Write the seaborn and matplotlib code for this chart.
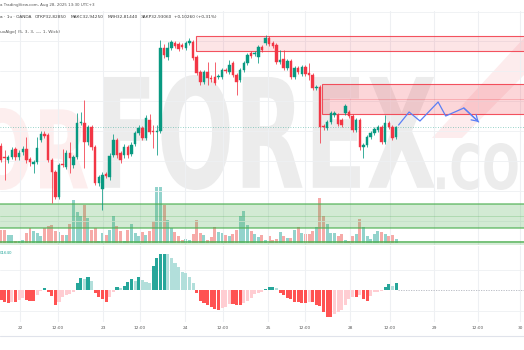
import numpy as np
import pandas as pd
import matplotlib
matplotlib.use("Agg")
import matplotlib.pyplot as plt
import seaborn as sns
from matplotlib.textpath import TextPath
from matplotlib.font_manager import FontProperties
from matplotlib.patches import PathPatch, Rectangle, Polygon
from matplotlib.transforms import Affine2D
from matplotlib.lines import Line2D

# ---------------- data (1h candles) ----------------
opens = [32.74, 32.63, 32.60, 32.63, 32.71, 32.63, 32.68, 32.71, 32.61, 32.56,
         32.58, 32.80, 32.86, 32.85, 32.60, 32.48, 32.23, 32.56, 32.53, 32.67,
         32.55, 32.63, 32.97, 32.97, 32.78, 32.93, 32.73, 32.37, 32.31, 32.46,
         32.43, 32.65, 32.80, 32.67, 32.65, 32.73, 32.66, 32.76, 32.87, 32.92,
         32.82, 33.00, 32.89, 32.88, 32.89, 33.72, 33.63, 33.72, 33.77, 33.76,
         33.75, 33.72, 33.77, 33.78, 33.63, 33.48, 33.38, 33.48, 33.42, 33.43,
         33.43, 33.43, 33.50, 33.48, 33.57, 33.45, 33.40, 33.50, 33.57, 33.67,
         33.66, 33.63, 33.73, 33.77, 33.82, 33.77, 33.75, 33.58, 33.61, 33.52,
         33.59, 33.43, 33.52, 33.46, 33.53, 33.47, 33.45, 33.32, 33.33, 32.94,
         32.92, 32.98, 33.05, 33.05, 33.00, 33.07, 33.08, 33.04, 32.90, 33.00,
         32.73, 32.75, 32.83, 32.87, 32.90, 32.93, 32.78, 32.97, 32.93, 32.8285]
closes = [32.60, 32.62, 32.63, 32.70, 32.63, 32.67, 32.71, 32.60, 32.58, 32.58,
          32.72, 32.86, 32.84, 32.60, 32.48, 32.23, 32.55, 32.55, 32.67, 32.62,
          32.63, 32.97, 32.98, 32.78, 32.93, 32.73, 32.37, 32.43, 32.45, 32.44,
          32.64, 32.80, 32.65, 32.60, 32.73, 32.65, 32.75, 32.87, 32.92, 32.82,
          33.02, 32.88, 32.88, 32.89, 33.72, 33.65, 33.72, 33.78, 33.74, 33.71,
          33.73, 33.77, 33.79, 33.62, 33.47, 33.38, 33.48, 33.42, 33.41, 33.37,
          33.44, 33.50, 33.49, 33.55, 33.45, 33.38, 33.50, 33.57, 33.65, 33.64,
          33.67, 33.73, 33.70, 33.82, 33.76, 33.74, 33.58, 33.60, 33.52, 33.59,
          33.43, 33.52, 33.48, 33.53, 33.46, 33.45, 33.32, 33.33, 32.93, 32.93,
          32.98, 33.07, 33.07, 32.96, 32.95, 33.14, 33.04, 32.90, 33.00, 32.73,
          32.75, 32.83, 32.87, 32.91, 32.93, 32.78, 32.97, 32.93, 32.82, 32.9306]
highs = [32.77, 32.70, 32.65, 32.73, 32.73, 32.70, 32.74, 32.83, 32.63, 32.60,
         32.83, 32.89, 32.89, 32.87, 32.62, 32.50, 32.57, 32.71, 32.70, 32.78,
         32.65, 33.07, 33.08, 33.20, 32.95, 32.95, 32.75, 32.45, 32.48, 32.48,
         32.67, 32.86, 32.82, 32.69, 32.76, 32.75, 32.78, 32.89, 32.95, 32.94,
         33.05, 33.06, 32.95, 32.95, 33.80, 33.76, 33.78, 33.80, 33.79, 33.78,
         33.77, 33.79, 33.82, 33.80, 33.65, 33.50, 33.50, 33.58, 33.45, 33.58,
         33.46, 33.52, 33.52, 33.60, 33.59, 33.47, 33.52, 33.59, 33.67, 33.69,
         33.69, 33.75, 33.75, 33.85, 33.84, 33.79, 33.77, 33.70, 33.70, 33.61,
         33.61, 33.54, 33.54, 33.55, 33.55, 33.57, 33.47, 33.35, 33.35, 32.96,
         33.00, 33.09, 33.09, 33.07, 33.02, 33.16, 33.10, 33.06, 33.02, 33.02,
         32.77, 32.85, 32.89, 32.93, 32.95, 32.95, 33.05, 32.99, 32.95, 32.9425]
lows = [32.58, 32.40, 32.57, 32.61, 32.60, 32.60, 32.65, 32.57, 32.54, 32.47,
        32.56, 32.78, 32.82, 32.58, 32.17, 32.21, 32.21, 32.53, 32.51, 32.47,
        32.52, 32.61, 32.95, 32.52, 32.75, 32.70, 32.35, 32.34, 32.10, 32.42,
        32.40, 32.63, 32.62, 32.57, 32.62, 32.62, 32.64, 32.74, 32.85, 32.80,
        32.80, 32.86, 32.72, 32.65, 32.87, 33.62, 33.60, 33.70, 33.72, 33.69,
        33.71, 33.70, 33.75, 33.60, 33.45, 33.35, 33.36, 33.35, 33.38, 33.35,
        33.41, 33.41, 33.47, 33.46, 33.43, 33.25, 33.38, 33.48, 33.55, 33.62,
        33.64, 33.57, 33.68, 33.75, 33.74, 33.72, 33.56, 33.56, 33.50, 33.50,
        33.41, 33.41, 33.46, 33.44, 33.44, 33.40, 33.30, 33.30, 32.77, 32.90,
        32.90, 32.96, 33.03, 32.94, 32.93, 33.05, 33.02, 32.88, 32.88, 32.70,
        32.62, 32.73, 32.81, 32.85, 32.88, 32.76, 32.76, 32.91, 32.80, 32.8144]
volumes = [38, 38, 25, 25, 5, 5, 8, 30, 45, 35,
           30, 20, 45, 52, 53, 35, 32, 25, 25, 58,
           130, 93, 80, 115, 75, 40, 45, 7, 30, 25,
           38, 80, 52, 35, 7, 40, 57, 30, 20, 32,
           23, 35, 67, 168, 168, 113, 68, 45, 32, 20,
           10, 12, 10, 27, 70, 30, 23, 10, 17, 47,
           32, 30, 25, 20, 28, 40, 82, 95, 55, 35,
           28, 18, 25, 10, 20, 8, 12, 32, 22, 15,
           15, 40, 47, 30, 28, 27, 37, 48, 135, 82,
           58, 30, 30, 20, 28, 8, 7, 20, 28, 73,
           48, 20, 12, 28, 37, 32, 28, 20, 25, 12]
hist = [-30, -35, -40, -35, -35, -30, -25, -30, -32, -32,
        -15, -2, 7, -5, -18, -45, -35, -20, -15, -13,
        -5, 20, 37, 32, 40, 27, -8, -22, -28, -35,
        -20, -5, 10, 7, 13, 23, 32, 28, 40, 30,
        25, 22, 72, 95, 107, 108, 107, 95, 82, 68,
        53, 52, 40, 20, -8, -33, -40, -45, -50, -57,
        -60, -55, -50, -43, -43, -45, -45, -40, -33, -23,
        -13, -10, -5, 3, 10, 10, 5, -8, -15, -25,
        -28, -37, -37, -38, -38, -35, -35, -45, -47, -65,
        -80, -80, -72, -65, -60, -45, -28, -20, -22, -15,
        -27, -32, -18, -7, -5, -3, 10, 18, 13, 22]

tick_pos = [5.24, 15.73, 28.15, 38.36, 50.77, 61.26, 73.68, 83.89, 96.30,
            107.34, 119.48, 131.62, 143.21]
tick_labels = ["22", "12:00", "23", "12:00", "24", "12:00", "25", "12:00",
               "28", "12:00", "29", "12:00", "30"]

# zones (price bounds) and their start bar
supply_a = (53.8, 33.695, 33.845)
supply_b = (88.6, 33.06, 33.365, 33.21)
demand_a = (31.923, 32.16, 32.04)
demand_b = (31.745, 31.79, 31.78)

proj_x = [109.7, 112.6, 115.6, 120.6, 122.7, 127.7, 131.8]
proj_y = [32.95, 33.08, 32.99, 33.18, 33.04, 33.12, 32.98]

# ---------------- figure ----------------
W, H = 524, 350
sns.set_theme(style="white")
plt.rcParams["font.family"] = ["DejaVu Sans"]
fig = plt.figure(figsize=(W / 100, H / 100), dpi=100)
fig.patch.set_facecolor("white")
XL = (-0.276, 144.3)


def rect(x0, y0, x1, y1):
    return [x0 / W, 1 - y1 / H, (x1 - x0) / W, (y1 - y0) / H]


def stamp(text, x0, y0, x1, y1, color):
    tp = TextPath((0, 0), text, size=100,
                  prop=FontProperties(family="DejaVu Sans", weight="bold"))
    bb = tp.get_extents()
    tr = (Affine2D().translate(-bb.x0, -bb.y0)
          .scale((x1 - x0) / bb.width / W, (y1 - y0) / bb.height / H)
          .translate(x0 / W, 1 - y1 / H) + fig.transFigure)
    fig.add_artist(PathPatch(tp, facecolor=color, edgecolor="none",
                             transform=tr, zorder=-5))


# watermark
stamp("FOREX", 103, 75, 435, 190, "#ececec")
stamp(".COM", 437, 143, 560, 190, "#ececec")
stamp("OR", -25, 108, 88, 190, "#fdeeee")
fig.add_artist(Polygon([(432 / W, 1 - 138 / H), (462 / W, 1 - 138 / H),
                        (524 / W, 1 - 75 / H), (524 / W, 1 - 38 / H)],
                       closed=True, transform=fig.transFigure,
                       facecolor="#fdeced", edgecolor="none", zorder=-5))

n = len(opens)
df = pd.DataFrame({"idx": np.arange(n), "o": opens, "c": closes,
                   "h": highs, "l": lows, "vol": volumes, "hist": hist})
df["dir"] = np.where(df["c"] >= df["o"], "up", "down")
prev = df["hist"].shift(1).fillna(0)
df["hcat"] = np.where(df["hist"] >= 0,
                      np.where(df["hist"] >= prev, "pu", "pd"),
                      np.where(df["hist"] <= prev, "nd", "nu"))

GRID = "#eef0f3"

# ---- volume axes ----
vax = fig.add_axes(rect(0, 183, 524, 243), zorder=1)
vax.set_facecolor("none")
sns.barplot(data=df, x="idx", y="vol", hue="dir", order=list(range(n)),
            dodge=False, width=0.82, legend=False, errorbar=None, saturation=1,
            palette={"up": "#93d3cc", "down": "#f6aaa8"}, linewidth=0, ax=vax)
vax.set_xlim(*XL)
vax.set_ylim(0, 180)
vax.set_axis_off()

# ---- main price axes ----
ax = fig.add_axes(rect(0, 11, 524, 245), zorder=2)
ax.set_facecolor("none")
ax.set_xlim(*XL)
ax.set_ylim(31.75, 34.09)
ax.set_axis_off()
for t in tick_pos:
    ax.axvline(t, color=GRID, lw=0.8, zorder=0)
for gp in [34.085, 33.79, 33.49, 33.19, 32.89, 32.59, 32.29, 31.99]:
    ax.axhline(gp, color=GRID, lw=0.6, zorder=0)

red = (242 / 255, 54 / 255, 69 / 255)
green = (76 / 255, 175 / 255, 80 / 255)
s0, lo, hi = supply_a
ax.add_patch(Rectangle((s0, lo), 200, hi - lo, facecolor=red + (0.13,),
                       edgecolor=red + (0.85,), lw=0.8, zorder=1))
s0, lo, hi, mid = supply_b
ax.add_patch(Rectangle((s0, lo), 200, hi - lo, facecolor=red + (0.2,),
                       edgecolor=red + (0.85,), lw=0.8, zorder=1))
ax.hlines(mid, s0, 200, color=red + (0.3,), lw=0.6, zorder=1)
lo, hi, mid = demand_a
ax.add_patch(Rectangle((-5, lo), 300, hi - lo, facecolor=green + (0.25,),
                       edgecolor=green + (0.75,), lw=1.1, zorder=1))
ax.axhline(mid, color=green + (0.3,), lw=0.6, zorder=1)
lo, hi, mid = demand_b
ax.add_patch(Rectangle((-5, lo), 300, hi - lo, facecolor=green + (0.22,),
                       edgecolor="none", zorder=1))
ax.axhline(mid, color=green + (0.8,), lw=1.2, zorder=1)

ax.axhline(closes[-1], color="#089981", lw=0.6, ls=(0, (1, 2)), alpha=0.55, zorder=2)

cols = np.where(df["dir"] == "up", "#089981", "#f23645")
ax.vlines(df["idx"], df["l"], df["h"], colors=cols, lw=0.55, zorder=3)
ax.bar(df["idx"], (df["c"] - df["o"]).abs(), bottom=np.minimum(df["o"], df["c"]),
       width=0.68, color=cols, edgecolor=cols, linewidth=0.3, zorder=4)

blue = "#5b7ff5"
ax.plot(proj_x, proj_y, color=blue, lw=0.9, zorder=5)
ax.annotate("", xy=(proj_x[-1], proj_y[-1]), xytext=(proj_x[-2], proj_y[-2]),
            arrowprops=dict(arrowstyle="->,head_length=0.35,head_width=0.22",
                            color=blue, lw=0.9, shrinkA=0, shrinkB=0), zorder=5)

# ---- histogram axes ----
hax = fig.add_axes(rect(0, 246, 524, 322), zorder=1)
hax.set_facecolor("none")
sns.barplot(data=df, x="idx", y="hist", hue="hcat", order=list(range(n)),
            dodge=False, width=0.85, legend=False, errorbar=None, saturation=1,
            palette={"pu": "#26a69a", "pd": "#b2dfdb", "nd": "#ff5252", "nu": "#ffcdd2"},
            linewidth=0, ax=hax)
for t in tick_pos:
    hax.axvline(t, color=GRID, lw=0.8, zorder=0)
for gy in [60, -63]:
    hax.axhline(gy, color=GRID, lw=0.6, zorder=0)
hax.plot([n - 0.4, 150], [0, 0], color="#b2b5be", lw=0.6, ls=(0, (1.5, 1.5)))
hax.set_xlim(*XL)
hax.set_ylim(-96, 132)
for sp in hax.spines.values():
    sp.set_visible(False)
hax.set_yticks([])
hax.set_xlabel("")
hax.set_ylabel("")
hax.set_xticks(tick_pos)
hax.set_xticklabels(tick_labels)
hax.tick_params(axis="x", length=0, labelsize=3.1, colors="#555555", pad=3.2)

fig.add_artist(Line2D([0, 1], [1 - 336 / H] * 2, transform=fig.transFigure,
                      color="#e0e3eb", lw=0.8))

# ---- texts ----
def ftext(x, y, s, size=3.1, color="#3d3d3d"):
    fig.text(x / W, 1 - y / H, s, ha="left", va="center", fontsize=size, color=color)

ftext(0, 5, "a TradingView.com, Aug 28, 2025 13:30 UTC+3", size=2.9, color="#555555")
ftext(0, 16.5, "a · 1ч · OANDA")
ftext(35, 16.5, "ОТКР32,82850")
ftext(70.7, 16.5, "МАКС32,94250")
ftext(107.3, 16.5, "МИН32,81440")
ftext(140.7, 16.5, "ЗАКР32,93060")
ftext(174, 16.5, "+0,10260 (+0,31%)")
ftext(0, 32, "uxAlgo] (5, 3, 3, —, 1, Wick)", color="#555555")
ftext(0, 252.5, "01640", size=2.9, color="#26a69a")

fig.savefig("out.png", dpi=100, facecolor="white")
